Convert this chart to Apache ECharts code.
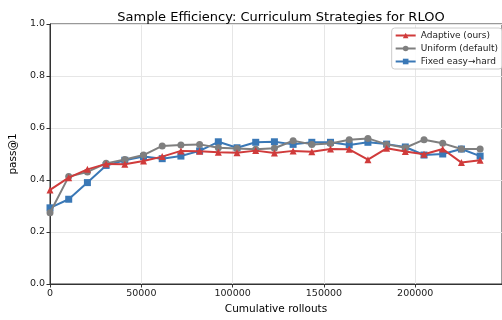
<!DOCTYPE html>
<html><head><meta charset="utf-8">
<script src="https://cdn.jsdelivr.net/npm/echarts@6/dist/echarts.min.js"></script>
<style>html,body{margin:0;padding:0;background:#fff}#c{width:502px;height:320px}</style>
</head><body><div id="c"></div>
<script>
const rollouts = [0,10240,20480,30720,40960,51200,61440,71680,81920,92160,102400,112640,122880,133120,143360,153600,163840,174080,184320,194560,204800,215040,225280,235520];
const adaptive = [0.362,0.409,0.441,0.462,0.461,0.473,0.490,0.512,0.511,0.507,0.505,0.513,0.504,0.512,0.509,0.519,0.518,0.478,0.522,0.510,0.499,0.519,0.467,0.476];
const uniform  = [0.274,0.413,0.431,0.464,0.479,0.496,0.531,0.535,0.537,0.524,0.521,0.518,0.522,0.551,0.537,0.540,0.555,0.560,0.537,0.524,0.555,0.541,0.519,0.519];
const fixed    = [0.293,0.326,0.390,0.456,0.476,0.490,0.482,0.492,0.512,0.547,0.524,0.545,0.547,0.537,0.545,0.545,0.535,0.545,0.538,0.527,0.496,0.500,0.519,0.492];
const seriesNames = ['Adaptive (ours)','Uniform (default)','Fixed easy\u2192hard'];
const yTicks = [0,0.2,0.4,0.6,0.8,1.0];

const font = 'DejaVu Sans';
const chart = echarts.init(document.getElementById('c'));
const pts = arr => arr.map((v,i)=>[rollouts[i],v]);
const colors = ['#d03b3b','#7f7f7f','#3a78b6'];
const symbols = ['triangle','circle','rect'];
const sizes = [7,7,7];
chart.setOption({
  animation:false,
  textStyle:{fontFamily:font},
  title:{text:'Sample Efficiency: Curriculum Strategies for RLOO',left:276,textAlign:'center',top:6,
    textStyle:{fontFamily:font,fontSize:13,fontWeight:'normal',color:'#000'}},
  grid:{left:48,right:-8,top:24,bottom:36,show:true,borderColor:'#333',borderWidth:1},
  legend:{orient:'vertical',right:0,top:28,itemWidth:20,itemHeight:7,itemGap:4,
    backgroundColor:'rgba(255,255,255,0.85)',borderColor:'#ccc',borderWidth:1,borderRadius:3,padding:[3,4,3,3],
    textStyle:{fontFamily:font,fontSize:9,color:'#222'},data:seriesNames},
  xAxis:{type:'value',min:0,max:247500,interval:50000,
    name:'Cumulative rollouts',nameLocation:'middle',nameGap:19,
    nameTextStyle:{fontFamily:font,fontSize:10.5,color:'#000'},
    axisLine:{show:true,lineStyle:{color:'#333',width:1}},
    axisTick:{show:true,length:3.5,lineStyle:{color:'#333'}},
    axisLabel:{fontFamily:font,fontSize:9.5,color:'#222',margin:5,showMaxLabel:false,
      formatter:v=>(v%50000===0?String(v):'')},
    splitLine:{show:true,lineStyle:{color:'#e6e6e6',width:1}}},
  yAxis:{type:'value',min:0,max:1,interval:0.2,
    name:'pass@1',nameLocation:'middle',nameGap:24,
    nameTextStyle:{fontFamily:font,fontSize:10.5,color:'#000'},
    axisLine:{show:true,lineStyle:{color:'#333',width:1}},
    axisTick:{show:true,length:3.5,lineStyle:{color:'#333'}},
    axisLabel:{fontFamily:font,fontSize:9.5,color:'#222',margin:5,
      formatter:v=>{const t=yTicks.find(x=>Math.abs(x-v)<1e-9);return t===undefined?'':t.toFixed(1);}},
    splitLine:{show:true,lineStyle:{color:'#e6e6e6',width:1}}},
  series:[adaptive,uniform,fixed].map((d,i)=>({
    name:seriesNames[i],type:'line',data:pts(d),
    symbol:symbols[i],symbolSize:sizes[i],showSymbol:true,
    itemStyle:{color:colors[i]},lineStyle:{color:colors[i],width:2},
    z:3-i
  }))
});
</script></body></html>
